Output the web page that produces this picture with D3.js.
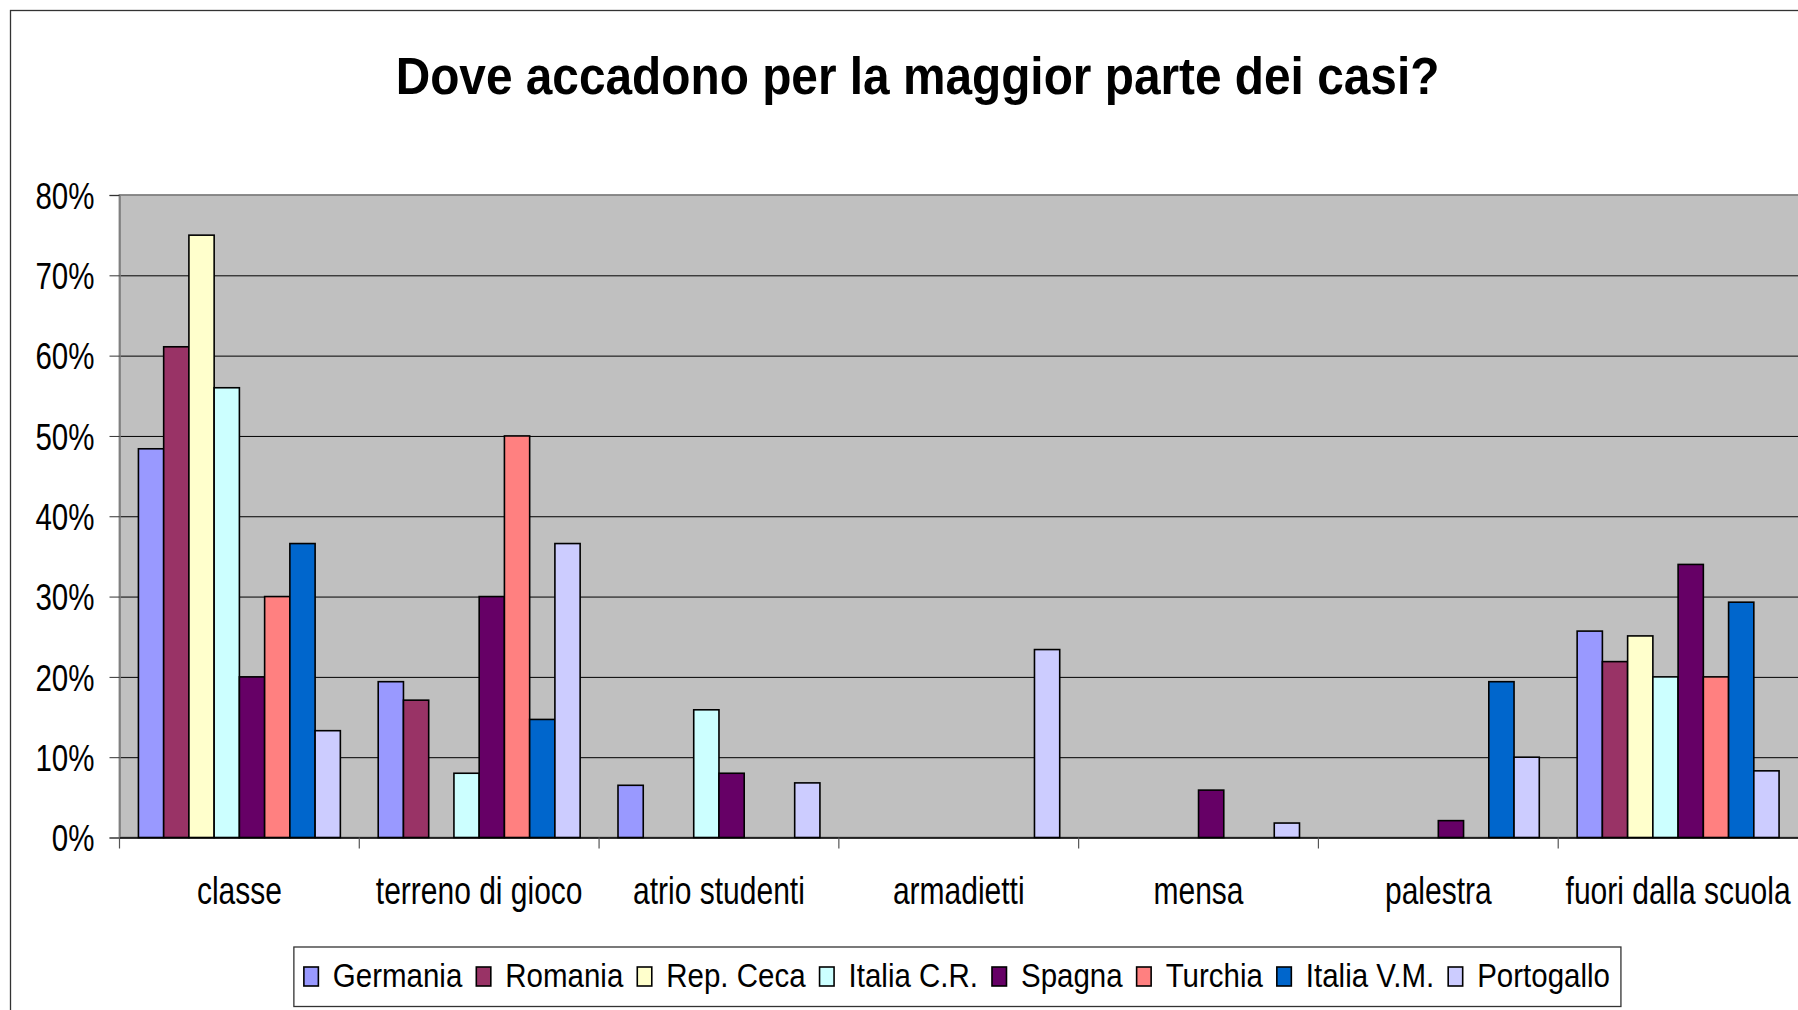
<!DOCTYPE html>
<html>
<head>
<meta charset="utf-8">
<script src="https://cdn.jsdelivr.net/npm/d3@7"></script>
<style>
  html, body { margin: 0; padding: 0; background: #fff; overflow: hidden; }
  svg { display: block; font-family: "Liberation Sans", Arial, sans-serif; }
</style>
</head>
<body>
<div id="chart"></div>
<script>
const title = "Dove accadono per la maggior parte dei casi?";
const categories = ["classe", "terreno di gioco", "atrio studenti", "armadietti", "mensa", "palestra", "fuori dalla scuola"];
const seriesNames = ["Germania", "Romania", "Rep. Ceca", "Italia C.R.", "Spagna", "Turchia", "Italia V.M.", "Portogallo"];
const seriesColors = ["#9999FF", "#993366", "#FFFFCC", "#CCFFFF", "#660066", "#FF8080", "#0066CC", "#CCCCFF"];

// percentages per category, null = no bar
const germania   = [48.4, 19.4, 6.5, null, null, null, 25.7];
const romania    = [61.1, 17.1, null, null, null, null, 21.9];
const repCeca    = [75.0, null, null, null, null, null, 25.1];
const italiaCR   = [56.0, 8.0, 15.9, null, null, null, 20.0];
const spagna     = [20.0, 30.0, 8.0, null, 5.9, 2.1, 34.0];
const turchia    = [30.0, 50.0, null, null, null, null, 20.0];
const italiaVM   = [36.6, 14.7, null, null, null, 19.4, 29.3];
const portogallo = [13.3, 36.6, 6.8, 23.4, 1.8, 10.0, 8.3];
const yTicks = [0, 10, 20, 30, 40, 50, 60, 70, 80];

const seriesValues = [germania, romania, repCeca, italiaCR, spagna, turchia, italiaVM, portogallo];

const W = 1798, H = 1010;
const margin = { top: 195, right: 0, bottom: 172.5, left: 119.5 };
const width = W - margin.left - margin.right;
const height = H - margin.top - margin.bottom;

const root = d3.select("#chart")
  .append("svg")
  .attr("width", W)
  .attr("height", H);

// chart area frame (runs off the right and bottom edge)
root.append("rect")
  .attr("x", 10.5).attr("y", 10.5)
  .attr("width", W + 100).attr("height", H + 100)
  .attr("fill", "#fff")
  .attr("stroke", "#333")
  .attr("stroke-width", 1.3);

root.append("text")
  .attr("transform", "translate(917.5,94) scale(1,1.1)")
  .attr("text-anchor", "middle")
  .style("font-size", "47.8px")
  .style("font-weight", "bold")
  .text(title);

const svg = root.append("g")
  .attr("transform", `translate(${margin.left},${margin.top})`);

const x0 = d3.scaleBand().domain(categories).range([0, width]);
const x1 = d3.scaleBand().domain(seriesNames).range([0, x0.bandwidth()])
  .paddingInner(0).paddingOuter(0.75);
const y = d3.scaleLinear().domain([0, 80]).range([height, 0]);
const color = d3.scaleOrdinal().domain(seriesNames).range(seriesColors);

svg.append("rect")
  .attr("width", width + 2)
  .attr("height", height)
  .attr("fill", "#C0C0C0")
  .attr("stroke", "#808080")
  .attr("stroke-width", 1.8);

// gridlines
svg.append("g")
  .attr("class", "grid")
  .call(d3.axisLeft(y).tickValues(yTicks.filter(t => t > 0 && t < 80)).tickSize(-width - 2).tickFormat(""))
  .call(g => g.select(".domain").remove())
  .call(g => g.selectAll("line").attr("stroke", "#000").attr("stroke-width", 1));

// bars
const groups = svg.selectAll(".cat")
  .data(categories.map((c, i) => ({
    cat: c,
    values: seriesNames.map((s, j) => ({ name: s, value: seriesValues[j][i] }))
  })))
  .enter()
  .append("g")
  .attr("class", "cat")
  .attr("transform", d => `translate(${x0(d.cat)},0)`);

groups.selectAll("rect")
  .data(d => d.values.filter(v => v.value != null))
  .enter()
  .append("rect")
  .attr("x", d => x1(d.name))
  .attr("y", d => y(d.value))
  .attr("width", x1.bandwidth())
  .attr("height", d => height - y(d.value))
  .attr("fill", d => color(d.name))
  .attr("stroke", "#000")
  .attr("stroke-width", 1.6);

// y axis
svg.append("g")
  .attr("class", "y-axis")
  .call(d3.axisLeft(y).tickValues(yTicks).tickSize(10).tickPadding(15).tickFormat(d => d + "%"))
  .call(g => g.select(".domain").attr("stroke", "#808080").attr("stroke-width", 1.5))
  .call(g => g.selectAll(".tick line").attr("stroke", "#333"))
  .call(g => g.selectAll("text")
    .attr("dy", "0.36em")
    .attr("fill", "#000")
    .style("font-size", "29.5px")
    .attr("transform", "scale(1,1.25)"));

// x axis: labels at band centres, ticks on band edges
const xAxis = svg.append("g")
  .attr("class", "x-axis")
  .attr("transform", `translate(0,${height})`)
  .call(d3.axisBottom(x0).tickSize(0).tickPadding(0))
  .call(g => g.select(".domain").attr("stroke", "#000").attr("stroke-width", 1.5))
  .call(g => g.selectAll("text")
    .attr("y", 0).attr("dy", 0)
    .attr("fill", "#000")
    .style("font-size", "30px")
    .attr("transform", "translate(0,66) scale(1,1.3)"));

xAxis.selectAll(".edge")
  .data(categories.map(c => x0(c)))
  .enter()
  .append("line")
  .attr("class", "edge")
  .attr("x1", d => d).attr("x2", d => d)
  .attr("y1", 0).attr("y2", 11)
  .attr("stroke", "#555")
  .attr("stroke-width", 1.2);

// legend
const legend = root.append("g").attr("class", "legend");
const legendBox = legend.append("rect")
  .attr("y", 947)
  .attr("height", 59.5)
  .attr("fill", "#fff")
  .attr("stroke", "#333")
  .attr("stroke-width", 1.3);

const items = legend.selectAll(".item")
  .data(seriesNames)
  .enter()
  .append("g")
  .attr("class", "item");

items.append("rect")
  .attr("y", 967)
  .attr("width", 14.5)
  .attr("height", 19)
  .attr("fill", d => color(d))
  .attr("stroke", "#000")
  .attr("stroke-width", 1.6);

items.append("text")
  .attr("x", 29)
  .attr("transform", "translate(0,987) scale(1,1.15)")
  .style("font-size", "29.5px")
  .text(d => d);

let cursor = 10;
items.each(function () {
  const item = d3.select(this);
  item.attr("data-x", cursor);
  cursor += 29 + item.select("text").node().getComputedTextLength() + 14;
});
const legendWidth = cursor - 14 + 11;
const legendLeft = 957.4 - legendWidth / 2;
legendBox.attr("x", legendLeft).attr("width", legendWidth);
items.attr("transform", function () {
  return `translate(${legendLeft + (+this.getAttribute("data-x"))},0)`;
});
</script>
</body>
</html>
